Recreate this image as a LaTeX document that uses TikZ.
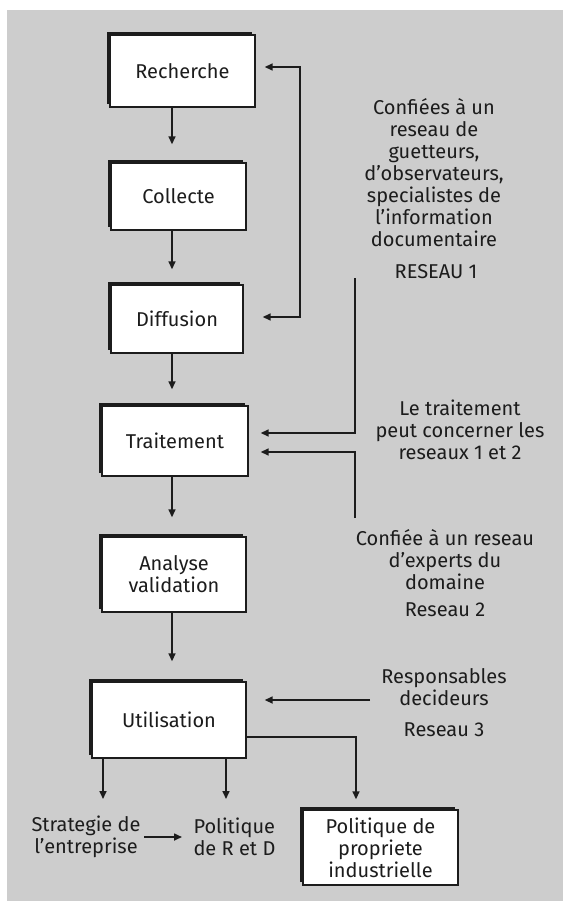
\documentclass[tikz,border=0pt]{standalone}
\usepackage{fontspec}
\setmainfont{Fira Sans}
\usetikzlibrary{arrows.meta,shadows,calc}
\definecolor{panel}{RGB}{205,205,205}
\definecolor{ink}{RGB}{28,28,28}
\begin{document}
\begin{tikzpicture}[x=1pt,y=-1pt,
  every node/.style={text=ink, font=\fontsize{20}{22}\selectfont, align=center},
  stage/.style={draw=ink, fill=white, line width=1.4pt, inner sep=0pt,
    drop shadow={shadow xshift=-3pt, shadow yshift=3pt, fill=ink, opacity=1}},
  link/.style={draw=ink, line width=1.6pt},
  arr/.style={link, -{Triangle[length=8pt,width=7pt]}},
]
\useasboundingbox (0,0) rectangle (563,901);
\fill[panel] (7,10) rectangle (563,901);

% process stages
\node[stage, minimum width=145pt, minimum height=72pt] (rech)  at (182.5,71)  {Recherche};
\node[stage, minimum width=135pt, minimum height=67pt] (coll)  at (178.5,196.5) {Collecte};
\node[stage, minimum width=132pt, minimum height=68pt] (diff)  at (177,319)   {Diffusion};
\node[stage, minimum width=146pt, minimum height=70pt] (trait) at (175,441)   {Traitement};
\node[stage, minimum width=144pt, minimum height=75pt] (ana)   at (174,574.5) {Analyse\\validation};
\node[stage, minimum width=154pt, minimum height=76pt] (util)  at (169,720)   {Utilisation};
\node[stage, minimum width=155pt, minimum height=75pt] (prop)  at (380.5,847.5) {Politique de\\propriete\\industrielle};

% side comments
\node (conf1) at (434,173) {Confiées à un\\reseau de\\guetteurs,\\d'observateurs,\\specialistes de\\l'information\\documentaire};
\node (res1)  at (436,272) {RESEAU 1};
\node (both)  at (460,430) {Le traitement\\peut concerner les\\reseaux 1 et 2};
\node (conf2) at (445,560) {Confiée à un reseau\\d'experts du\\domaine};
\node (res2)  at (445,610) {Reseau 2};
\node (resp)  at (444,687) {Responsables\\decideurs};
\node (res3)  at (444,730) {Reseau 3};
\node (strat) at (86,837)  {Strategie de\\l'entreprise};
\node[anchor=west, align=left] (rd) at (190,837) {Politique\\de R et D};

% main chain
\coordinate (spine) at (172,0);
\draw[arr, shorten >=18pt] (rech.south -| spine) -- (spine |- coll.north);
\draw[arr, shorten >=15pt] (coll.south -| spine) -- (spine |- diff.north);
\draw[arr, shorten >=16pt] (diff.south -| spine) -- (spine |- trait.north);
\draw[arr, shorten >=19pt] (trait.south -| spine) -- (spine |- ana.north);
\draw[arr, shorten >=20pt] (ana.south -| spine) -- (spine |- util.north);

% network 1 loop between diffusion and recherche
\coordinate (fbx) at (300,0);
\coordinate (rin) at ($(rech.east)+(0,-4)$);
\coordinate (din) at ($(diff.east)+(0,-2)$);
\draw[link, {Triangle[length=8pt,width=7pt]}-{Triangle[length=8pt,width=7pt]},
  shorten <=19pt, shorten >=9pt] (din) -| (fbx |- rin) -- (rin);

% networks 1 and 2 feeding the processing stage
\coordinate (r1top) at (355,278);
\coordinate (r2bot) at (355,518);
\coordinate (tin1) at ($(trait.east)+(0,-8)$);
\coordinate (tin2) at ($(trait.east)+(0,11)$);
\draw[arr, shorten >=12pt] (r1top) |- (tin1);
\draw[arr, shorten >=12pt] (r2bot) |- (tin2);

% decision makers
\coordinate (respx) at (370,700);
\coordinate (uin) at ($(util.east)+(0,-20)$);
\draw[arr, shorten >=18pt] (respx) -- (uin);

% outputs of the use stage
\coordinate (uout) at ($(util.east)+(0,17)$);
\draw[arr, shorten >=10pt] (uout) -| ($(prop.north)+(-24.5,0)$);
\coordinate (sa) at (103,0);
\coordinate (sb) at (226,0);
\coordinate (tiprow) at (0,799);
\draw[arr] (util.south -| sa) -- (sa |- tiprow);
\draw[arr] (util.south -| sb) -- (sb |- tiprow);
\draw[arr, shorten >=8pt] (strat.east) -- (rd.west);
\end{tikzpicture}
\end{document}
